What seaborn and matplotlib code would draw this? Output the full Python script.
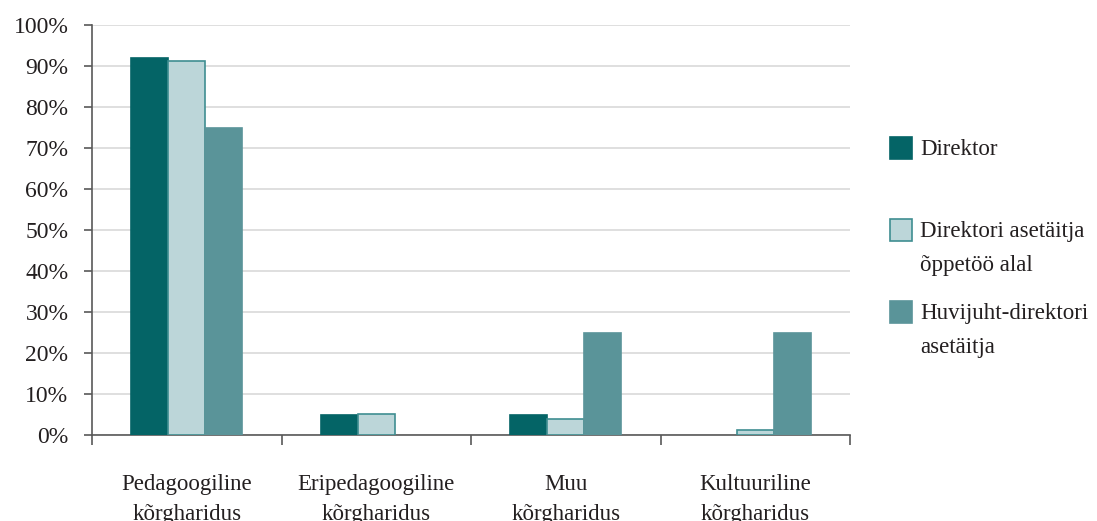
import matplotlib
matplotlib.use("Agg")
import matplotlib.pyplot as plt
from matplotlib.patches import Rectangle
import numpy as np
import pandas as pd
import seaborn as sns

# Categories of higher education and the share of each leader type
categories = ["Pedagoogiline\nkõrgharidus", "Eripedagoogiline\nkõrgharidus",
              "Muu\nkõrgharidus", "Kultuuriline\nkõrgharidus"]
series_names = ["Direktor", "Direktori asetäitja\nõppetöö alal",
                "Huvijuht-direktori\nasetäitja"]
direktor = [92, 5, 5, 0]
asetaitja = [91.2, 5.2, 4, 1.2]
huvijuht = [75, 0, 25, 25]
y_ticks = [0, 10, 20, 30, 40, 50, 60, 70, 80, 90, 100]

fills = ["#046466", "#BCD6D9", "#5A9499"]
edges = ["#046466", "#3F8E91", "#5A9499"]

df = pd.DataFrame({
    "kategooria": categories * 3,
    "grupp": sum([[s] * len(categories) for s in series_names], []),
    "osakaal": direktor + asetaitja + huvijuht,
})

sns.set_theme(style="white")
plt.rcParams["font.family"] = ["Liberation Serif", "DejaVu Serif"]
text_color = "#231F20"
fs = 16.5

fig = plt.figure(figsize=(10.97, 5.21), dpi=100)
ax = fig.add_axes([92 / 1097, 1 - 435 / 521, (850 - 92) / 1097, (435 - 25) / 521])

sns.barplot(data=df, x="kategooria", y="osakaal", hue="grupp",
            hue_order=series_names, order=categories,
            palette=fills, width=0.585, ax=ax, legend=False,
            saturation=1, linewidth=0)

for container, ec in zip(ax.containers, edges):
    for bar in container:
        bar.set_edgecolor(ec)
        # empty bars stay invisible
        bar.set_linewidth(1.2 if bar.get_height() > 0 else 0)
        bar.set_zorder(3)

ax.set_ylim(0, 100)
ax.set_xlim(-0.5, len(categories) - 0.5)
ax.set_yticks(y_ticks)
ax.set_yticklabels([f"{v}%" for v in y_ticks], fontsize=fs + 0.5, color=text_color)
ax.yaxis.grid(True, color="#D9D9D9", linewidth=1.2, zorder=0)
ax.set_axisbelow(True)

# Boundary ticks between categories, labels centred under each group
ax.set_xticks(np.arange(-0.5, len(categories), 1.0))
ax.set_xticklabels([])
ax.set_xticks(np.arange(len(categories)), minor=True)
ax.set_xticklabels(categories, minor=True, fontsize=fs, color=text_color,
                   linespacing=1.58)
ax.tick_params(axis="x", which="major", direction="out", length=7,
               width=1.2, color="#595959", bottom=True)
ax.tick_params(axis="x", which="minor", length=0, pad=28)
ax.tick_params(axis="y", direction="out", length=6, width=1.2,
               color="#595959", left=True, pad=11)
ax.set_xlabel("")
ax.set_ylabel("")

for side in ["top", "right"]:
    ax.spines[side].set_visible(False)
for side in ["left", "bottom"]:
    ax.spines[side].set_color("#595959")
    ax.spines[side].set_linewidth(1.2)

# Legend on the right, swatch aligned with the first line of each label
W, H = 1097, 521
legend_rows = [148, 230, 312]
for name, fc, ec, yc in zip(series_names, fills, edges, legend_rows):
    fig.patches.append(Rectangle((890 / W, 1 - (yc + 11) / H), 22 / W, 22 / H,
                                 transform=fig.transFigure, facecolor=fc,
                                 edgecolor=ec, linewidth=1.2))
    fig.text(920 / W, 1 - (yc - 9) / H, name, fontsize=fs, color=text_color,
             va="top", ha="left", linespacing=1.8)

fig.savefig("out.png", dpi=100)
